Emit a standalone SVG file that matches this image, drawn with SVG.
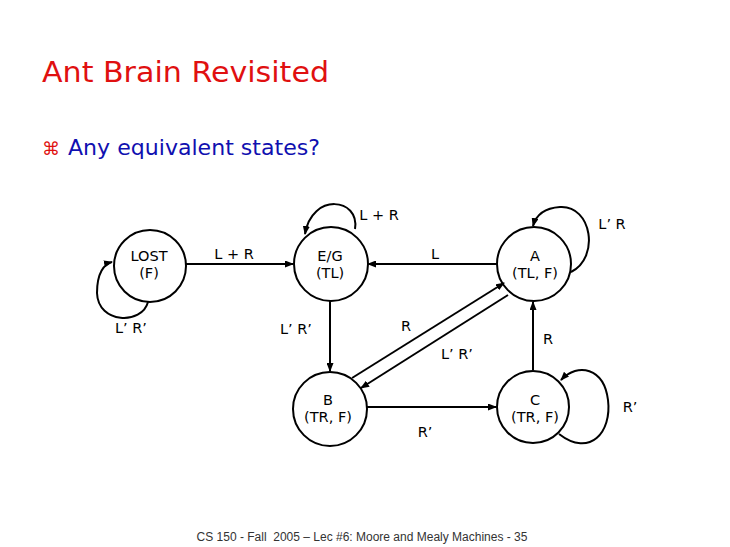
<svg xmlns="http://www.w3.org/2000/svg" width="730" height="547" viewBox="0 0 730 547">
<defs>
<style>
.st{fill:none;stroke:#000;stroke-width:2}
.nt{font-family:"DejaVu Sans","Liberation Sans",sans-serif;font-size:14.5px;fill:#000;text-anchor:middle}
.lb{font-family:"DejaVu Sans","Liberation Sans",sans-serif;font-size:14.5px;fill:#000;text-anchor:middle}
</style>
<marker id="ah" markerUnits="userSpaceOnUse" markerWidth="9" markerHeight="7" refX="8" refY="3.5" orient="auto">
<path d="M0,0 L9,3.5 L0,7 z" fill="#000"/>
</marker>
</defs>
<rect width="730" height="547" fill="#fff"/>
<text x="42" y="82" font-family="'DejaVu Sans',sans-serif" font-size="28" fill="#e01010" textLength="287" lengthAdjust="spacingAndGlyphs">Ant Brain Revisited</text>
<text x="42" y="155" font-family="'DejaVu Sans',sans-serif" font-size="18" fill="#e01010">⌘</text>
<text x="68" y="155" font-family="'DejaVu Sans',sans-serif" font-size="21" fill="#1010b0" textLength="252" lengthAdjust="spacingAndGlyphs">Any equivalent states?</text>

<g id="connectors">
<path class="st" d="M186 264 L293 264" marker-end="url(#ah)"/>
<path class="st" d="M497 264 L368 264" marker-end="url(#ah)"/>
<path class="st" d="M330 301 L330 371" marker-end="url(#ah)"/>
<path class="st" d="M352 378 L504 283" marker-end="url(#ah)"/>
<path class="st" d="M508 295 L361 388" marker-end="url(#ah)"/>
<path class="st" d="M533 370 L533 302" marker-end="url(#ah)"/>
<path class="st" d="M367 407 L496 407" marker-end="url(#ah)"/>
<path class="st" d="M148 302 C142 325 98 324 97 293 C97 273 104 264 112 262" marker-end="url(#ah)"/>
<path class="st" d="M355 229 C360 198 312 192 305 234" marker-end="url(#ah)"/>
<path class="st" d="M571 272 C600 258 592 205 560 207 C545 208 536 215 533 226" marker-end="url(#ah)"/>
<path class="st" d="M559 434 C590 458 612 432 608 400 C604 368 578 362 561 380" marker-end="url(#ah)"/>
<text class="lb" x="234" y="259">L + R</text>
<text class="lb" x="379" y="220">L + R</text>
<text class="lb" x="435" y="259">L</text>
<text class="lb" x="612" y="229">L’ R</text>
<text class="lb" x="131" y="333">L’ R’</text>
<text class="lb" x="296" y="334">L’ R’</text>
<text class="lb" x="406" y="331">R</text>
<text class="lb" x="457" y="359">L’ R’</text>
<text class="lb" x="548" y="344">R</text>
<text class="lb" x="425" y="437">R’</text>
<text class="lb" x="630" y="412">R’</text>
</g>

<g id="lost">
<circle class="st" cx="150" cy="266" r="36"/>
<text class="nt" x="149" y="261">LOST</text>
<text class="nt" x="149" y="278">(F)</text>
</g>
<g id="eg">
<circle class="st" cx="331" cy="264" r="37"/>
<text class="nt" x="330" y="261">E/G</text>
<text class="nt" x="330" y="278">(TL)</text>
</g>
<g id="a">
<circle class="st" cx="534" cy="264" r="37"/>
<text class="nt" x="535" y="261">A</text>
<text class="nt" x="535" y="278">(TL, F)</text>
</g>
<g id="b">
<circle class="st" cx="330" cy="409" r="37"/>
<text class="nt" x="328" y="405">B</text>
<text class="nt" x="328" y="422">(TR, F)</text>
</g>
<g id="c">
<circle class="st" cx="533" cy="407" r="36"/>
<text class="nt" x="535" y="405">C</text>
<text class="nt" x="535" y="422">(TR, F)</text>
</g>

<text x="362" y="541" xml:space="preserve" font-family="'Liberation Sans',Arial,sans-serif" font-size="12" fill="#333" text-anchor="middle">CS 150 - Fall  2005 – Lec #6: Moore and Mealy Machines - 35</text>
</svg>
